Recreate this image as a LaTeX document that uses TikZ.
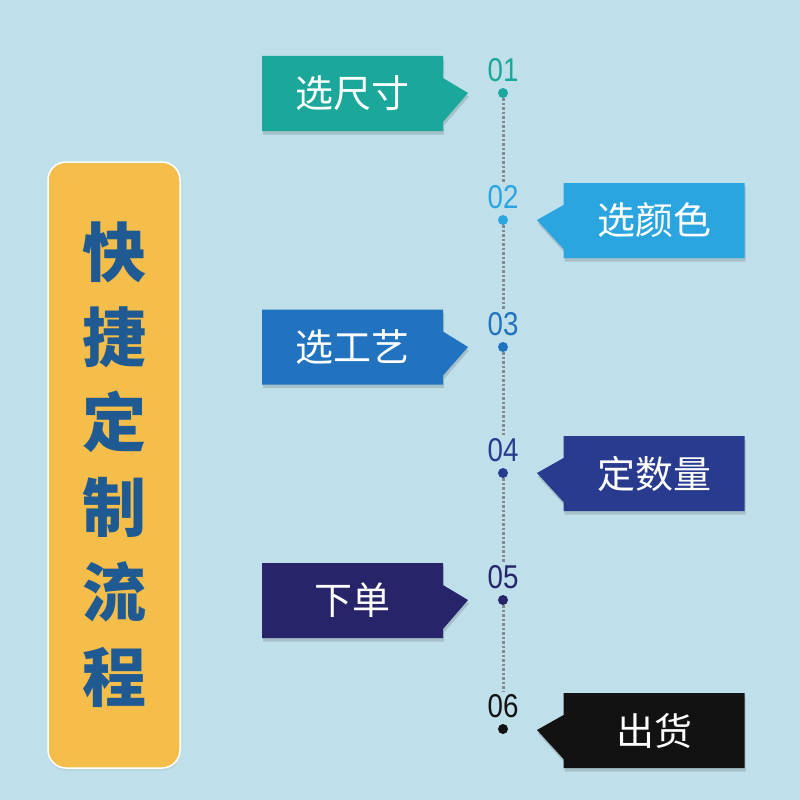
\documentclass[tikz,border=0pt]{standalone}
\usepackage{fontspec}
\setmainfont{Liberation Sans}
\newfontfamily\cjk{Noto Sans CJK SC}
\usepackage{xcolor}
\usetikzlibrary{positioning,shapes.callouts,shadows}
\definecolor{PageBlue}{HTML}{BFE0EA}
\definecolor{TitleYellow}{HTML}{F5BE4B}
\definecolor{TitleInk}{HTML}{1F5B92}
\definecolor{StepA}{HTML}{1BA89A}
\definecolor{StepB}{HTML}{2BA5DF}
\definecolor{StepC}{HTML}{2173BF}
\definecolor{StepD}{HTML}{283B8F}
\definecolor{StepE}{HTML}{27246A}
\definecolor{StepF}{HTML}{121212}
\definecolor{DotGray}{HTML}{858A90}

\begin{document}
\begin{tikzpicture}[
    x=1pt, y=-1pt,
    stepbox/.style={rectangle callout, minimum width=181pt, minimum height=75pt,
      inner sep=0pt, text=white, callout pointer width=44pt,
      font=\cjk\fontsize{38}{38}\selectfont,
      drop shadow={shadow xshift=1pt, shadow yshift=-3.5pt, opacity=0.18, fill=black!80}},
    dotnode/.style={circle, minimum size=10pt, inner sep=0pt},
    numlabel/.style={inner sep=0pt, xscale=0.84, font=\fontsize{33}{33}\selectfont},
    dotline/.style={draw=DotGray, line width=3pt, dash pattern=on 2.5pt off 2pt}
  ]
    \fill[PageBlue] (0,0) rectangle (800,800);
    \useasboundingbox (0,0) rectangle (800,800);

    % title bar
    \node[draw=white, line width=1.5pt, fill=TitleYellow, rounded corners=18pt,
      minimum width=132pt, minimum height=606pt, align=center, text=TitleInk,
      font=\cjk\bfseries\fontsize{64}{85}\selectfont,
      drop shadow={shadow xshift=0pt, shadow yshift=-3pt, opacity=0.1}]
      (title) at (114,465) {快\\捷\\定\\制\\流\\程};

    % timeline
    \foreach \i/\y/\col in {1/93/StepA,2/220/StepB,3/347/StepC,4/473/StepD,5/600/StepE,6/729/StepF} {
      \node[dotnode, fill=\col] (d\i) at (503,\y) {};
      \node[numlabel, text=\col, above=6pt of d\i] (n\i) {0\i};
    }
    \foreach \i/\j in {1/2,2/3,3/4,4/5,5/6}
      \draw[dotline] (d\i) -- ([yshift=3pt]n\j.north);

    % pointer tips
    \coordinate (t1) at (468,93);
    \coordinate (t2) at (537,220);
    \coordinate (t3) at (468,347);
    \coordinate (t4) at (537,473);
    \coordinate (t5) at (468,600);
    \coordinate (t6) at (537,730);

    \node[stepbox, fill=StepA, callout absolute pointer={(t1)}] (s1) at (352.5,93.5) {选尺寸};
    \node[stepbox, fill=StepB, callout absolute pointer={(t2)}] (s2) at (654,220.5) {选颜色};
    \node[stepbox, fill=StepC, callout absolute pointer={(t3)}] (s3) at (352.5,347) {选工艺};
    \node[stepbox, fill=StepD, callout absolute pointer={(t4)}] (s4) at (654,473.5) {定数量};
    \node[stepbox, fill=StepE, callout absolute pointer={(t5)}] (s5) at (352.5,600.5) {下单};
    \node[stepbox, fill=StepF, callout absolute pointer={(t6)}] (s6) at (654,730.5) {出货};
\end{tikzpicture}
\end{document}
